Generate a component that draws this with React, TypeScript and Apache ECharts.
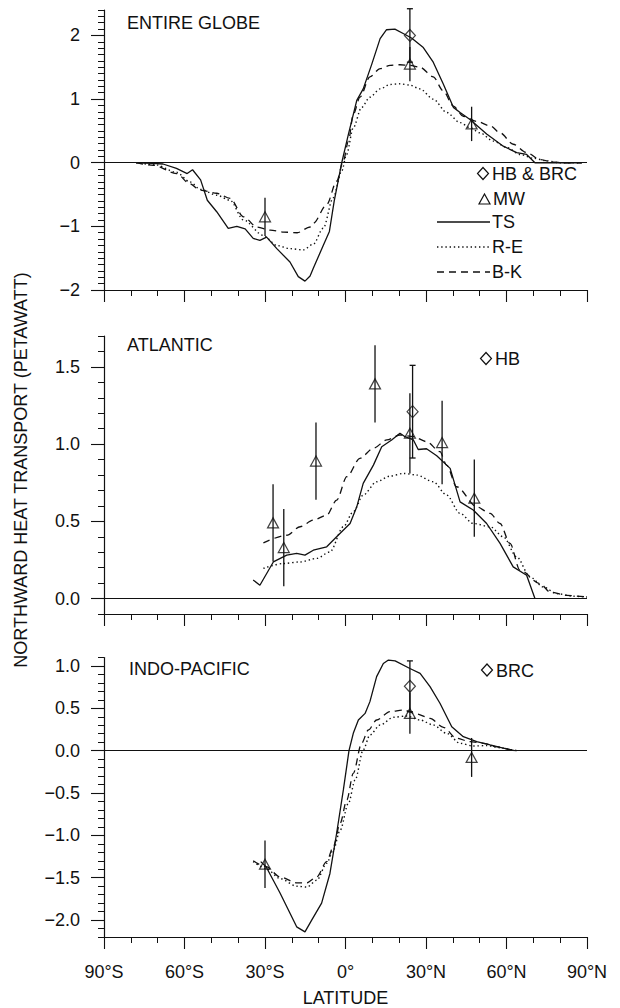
import React, { useEffect, useRef } from 'react';
import * as echarts from 'echarts';

// ---- tick labels ----
const latTicks = [-90, -60, -30, 0, 30, 60, 90];
const latLabels = ['90°S', '60°S', '30°S', '0°', '30°N', '60°N', '90°N'];
const globeMajor = [-2, -1, 0, 1, 2];
const atlMajor = [0, 0.5, 1.0, 1.5];
const pacMajor = [-2.0, -1.5, -1.0, -0.5, 0, 0.5, 1.0];

// ---- ENTIRE GLOBE ----
const globeTS = [[-78, 0], [-72, -0.01], [-68, -0.02], [-63, -0.09], [-59, -0.17], [-57, -0.11], [-54, -0.27], [-51.5, -0.59], [-48, -0.77], [-43.7, -1.03], [-40.5, -1.0], [-37.4, -1.04], [-34.4, -1.19], [-31.9, -1.22], [-29.4, -1.17], [-25.6, -1.35], [-20.7, -1.56], [-17.6, -1.79], [-15.1, -1.86], [-13.2, -1.78], [-12, -1.66], [-8.3, -1.3], [-6, -1.08], [-4.2, -0.6], [-1.4, 0], [1.1, 0.45], [4.2, 0.98], [6.6, 1.16], [9.8, 1.55], [12.9, 1.95], [15.3, 2.09], [18.4, 2.1], [21.5, 2.03], [24.6, 1.96], [29, 1.81], [32.7, 1.58], [36.4, 1.24], [40.2, 0.87], [42.7, 0.79], [46.4, 0.68], [52.6, 0.45], [58.8, 0.26], [63.8, 0.16], [67.5, 0.13], [70.6, 0], [88, 0]];
const globeRE = [[-78, 0], [-71, -0.03], [-63, -0.15], [-58, -0.3], [-54, -0.42], [-48, -0.51], [-43, -0.59], [-38, -0.9], [-30.7, -1.14], [-25.6, -1.3], [-20.7, -1.35], [-15.8, -1.37], [-12, -1.28], [-8.3, -1.03], [-4.6, -0.55], [-1.4, -0.13], [0.4, 0.13], [2.9, 0.55], [6, 0.87], [9.1, 1.03], [12.9, 1.16], [16.6, 1.23], [20.3, 1.24], [24, 1.22], [27.8, 1.16], [32.7, 1.0], [37.7, 0.79], [42.7, 0.63], [46.4, 0.55], [50.1, 0.47], [55.1, 0.34], [60.1, 0.24], [65, 0.13], [70, 0.07], [75, 0.03], [80, 0], [88, 0]];
const globeBK = [[-78, 0], [-71.6, -0.04], [-63, -0.17], [-58, -0.33], [-54.2, -0.43], [-48, -0.48], [-43, -0.56], [-38, -0.85], [-33, -1.01], [-28, -1.06], [-23, -1.09], [-18, -1.1], [-13.2, -1.01], [-12, -0.95], [-7, -0.66], [-3.3, -0.29], [-0.8, 0.03], [1.1, 0.34], [2.9, 0.76], [5.4, 1.03], [9.1, 1.35], [12.9, 1.48], [16.6, 1.53], [20.3, 1.54], [24, 1.53], [27.8, 1.5], [32.7, 1.35], [36.4, 1.13], [40.2, 0.89], [43.9, 0.73], [48.9, 0.65], [53.9, 0.58], [57.6, 0.47], [62.5, 0.29], [67.5, 0.16], [72.5, 0.05], [77.5, 0.01], [81, 0], [88, 0]];
const globeDiamonds = [[24, 2.0, 0.42]];
const globeTriangles = [[-30, -0.85, 0.3], [24, 1.55, 0.27], [47, 0.61, 0.27]];

// ---- ATLANTIC ----
const atlTS = [[-34.4, 0.12], [-31.9, 0.086], [-26.9, 0.237], [-21.9, 0.281], [-18.2, 0.292], [-15.1, 0.281], [-12, 0.313], [-7, 0.335], [-3.3, 0.4], [1.7, 0.486], [4.2, 0.594], [6.6, 0.746], [10.4, 0.864], [13.5, 0.983], [17.2, 1.027], [20.3, 1.07], [22.2, 1.048], [25.3, 1.027], [27.1, 0.965], [30.2, 0.97], [34, 0.925], [37.7, 0.864], [39, 0.843], [42.7, 0.626], [47.6, 0.573], [52.6, 0.486], [57.6, 0.357], [62.5, 0.205], [67.5, 0.151], [70.6, 0]];
const atlRE = [[-30.6, 0.195], [-23.2, 0.227], [-16.9, 0.237], [-10.7, 0.26], [-5.8, 0.302], [-0.8, 0.465], [2.9, 0.562], [6.6, 0.67], [11.6, 0.756], [16.6, 0.793], [21.6, 0.81], [26.5, 0.8], [32.7, 0.756], [37.7, 0.67], [42.7, 0.551], [47.6, 0.486], [53.9, 0.465], [58.8, 0.4], [63.8, 0.27], [68.8, 0.14], [73.7, 0.075], [78.7, 0.032], [84.9, 0.015], [90, 0.01]];
const atlBK = [[-30.6, 0.361], [-21.9, 0.41], [-16.9, 0.465], [-12, 0.508], [-7, 0.54], [-3.3, 0.637], [0.5, 0.789], [5.4, 0.908], [10.4, 0.973], [15.4, 1.027], [20.3, 1.059], [25.3, 1.048], [30.2, 1.016], [35.2, 0.951], [37.7, 0.864], [41.4, 0.724], [48.9, 0.594], [53.9, 0.551], [57.6, 0.486], [61.3, 0.357], [65, 0.184], [72.5, 0.097], [76.2, 0.043], [82.5, 0.02], [90, 0.01]];
const atlDiamonds = [[25, 1.21, 0.3]];
const atlTriangles = [[-27, 0.49, 0.25], [-23, 0.33, 0.25], [-11, 0.89, 0.25], [11, 1.39, 0.25], [24, 1.07, 0.26], [36, 1.01, 0.27], [48, 0.65, 0.25]];

// ---- INDO-PACIFIC ----
const pacTS = [[-31.6, -1.31], [-29.6, -1.37], [-24.4, -1.68], [-18.2, -2.08], [-15.1, -2.14], [-12.6, -2.0], [-8.9, -1.8], [-5.8, -1.45], [-3.3, -0.975], [-0.8, -0.464], [1.3, 0], [2.9, 0.205], [4.8, 0.362], [7.3, 0.44], [9.1, 0.579], [11.6, 0.874], [14.1, 1.03], [16, 1.07], [18.5, 1.06], [24, 0.97], [27.8, 0.913], [31.5, 0.756], [35.2, 0.56], [39.6, 0.283], [43.9, 0.165], [48.9, 0.106], [53.9, 0.067], [57.6, 0.04], [63, 0]];
const pacRE = [[-34.4, -1.31], [-29.6, -1.39], [-24.4, -1.51], [-18.2, -1.6], [-14.4, -1.61], [-10.7, -1.53], [-7, -1.33], [-4.5, -1.17], [-2, -0.94], [1.1, -0.62], [3.6, -0.346], [6.6, 0.008], [9.1, 0.185], [12.9, 0.303], [17.9, 0.394], [22.8, 0.41], [27.8, 0.362], [32.7, 0.303], [37.7, 0.205], [42.7, 0.087], [47.6, 0.055], [52.6, 0.06], [57.6, 0.035], [62, 0.01], [64, 0]];
const pacBK = [[-34.4, -1.3], [-29.6, -1.37], [-24.4, -1.49], [-18.2, -1.56], [-14.4, -1.56], [-10.7, -1.49], [-7, -1.31], [-4.5, -1.13], [-2, -0.857], [0.5, -0.582], [2.9, -0.267], [6, 0.087], [8.5, 0.244], [11.6, 0.362], [16.6, 0.46], [21.6, 0.48], [26.5, 0.433], [31.5, 0.382], [36.5, 0.276], [41.4, 0.146], [46.4, 0.106], [51.4, 0.087], [56.4, 0.047], [62, 0.01], [64, 0]];
const pacDiamonds = [[24, 0.76, 0.3]];
const pacTriangles = [[-30, -1.34, 0.28], [24, 0.44, 0.24], [47, -0.08, 0.23]];

const INK = '#111';
const FONT = 'Liberation Sans';
const DOT = [1.4, 2.8];
const DASH = [7, 5];

const minus = (s: string) => s.replace('-', '\u2212');

const panels = [
  { grid: { left: 104, width: 483, top: 10, height: 280 }, min: -2, max: 2.4, major: globeMajor, fmt: (v: number) => minus(v.toFixed(0)), ts: globeTS, re: globeRE, bk: globeBK, dia: globeDiamonds, tri: globeTriangles },
  { grid: { left: 104, width: 483, top: 336, height: 278 }, min: -0.1, max: 1.7, major: atlMajor, fmt: (v: number) => minus(v.toFixed(1)), ts: atlTS, re: atlRE, bk: atlBK, dia: atlDiamonds, tri: atlTriangles },
  { grid: { left: 104, width: 483, top: 657.5, height: 279.5 }, min: -2.2, max: 1.1, major: pacMajor, fmt: (v: number) => minus(v.toFixed(1)), ts: pacTS, re: pacRE, bk: pacBK, dia: pacDiamonds, tri: pacTriangles },
];

function buildOption() {
  const grid: any[] = [];
  const xAxis: any[] = [];
  const yAxis: any[] = [];
  const series: any[] = [];
  panels.forEach((p, g) => {
    grid.push(p.grid);
    xAxis.push({
      type: 'value', gridIndex: g, position: 'bottom', offset: 0, min: -90, max: 90, interval: 10,
      axisLine: { show: true, onZero: false, lineStyle: { color: INK, width: 1.2 } },
      axisTick: { show: true, length: 6, lineStyle: { color: INK, width: 1 } },
      axisLabel: { show: false }, splitLine: { show: false },
    });
    xAxis.push({
      type: 'value', gridIndex: g, position: 'bottom', offset: 0, min: -90, max: 90, interval: 30,
      axisLine: { show: false, onZero: false },
      axisTick: { show: true, length: 12, lineStyle: { color: INK, width: 1.1 } },
      axisLabel: {
        show: g === 2, margin: 26, color: INK, fontFamily: FONT, fontSize: 18,
        formatter: (v: number) => latLabels[latTicks.indexOf(Math.round(v))] ?? '',
      },
      splitLine: { show: false },
    });
    yAxis.push({
      type: 'value', gridIndex: g, position: 'left', offset: 0, min: p.min, max: p.max, interval: 0.1,
      axisLine: { show: true, onZero: false, lineStyle: { color: INK, width: 1.2 } },
      axisTick: { show: true, length: 6, lineStyle: { color: INK, width: 1 } },
      axisLabel: { show: false }, splitLine: { show: false },
    });
    yAxis.push({
      type: 'value', gridIndex: g, position: 'left', offset: 0, min: p.min, max: p.max,
      axisLine: { show: false, onZero: false },
      axisTick: { show: true, length: 13, customValues: p.major, lineStyle: { color: INK, width: 1.1 } },
      axisLabel: { show: true, margin: 24, customValues: p.major, color: INK, fontFamily: FONT, fontSize: 18, formatter: p.fmt },
      splitLine: { show: false },
    });
    const xi = 2 * g, yi = 2 * g;
    series.push({
      type: 'line', xAxisIndex: xi, yAxisIndex: yi, data: p.ts, symbol: 'none',
      lineStyle: { color: INK, width: 1.3 },
      markLine: { silent: true, symbol: ['none', 'none'], label: { show: false }, data: [{ yAxis: 0 }], lineStyle: { color: INK, width: 1, type: 'solid' } },
    });
    series.push({
      type: 'line', xAxisIndex: xi, yAxisIndex: yi, data: p.re, symbol: 'none', smooth: 0.3, smoothMonotone: 'x',
      lineStyle: { color: INK, width: 1.4, type: DOT },
    });
    series.push({
      type: 'line', xAxisIndex: xi, yAxisIndex: yi, data: p.bk, symbol: 'none', smooth: 0.3, smoothMonotone: 'x',
      lineStyle: { color: INK, width: 1.3, type: DASH },
    });
    const bars = [
      ...p.dia.map((d) => [d[0], d[1] - d[2], d[1] + d[2], 1]),
      ...p.tri.map((t) => [t[0], t[1] - t[2], t[1] + t[2], 0]),
    ];
    series.push({
      type: 'custom', xAxisIndex: xi, yAxisIndex: yi, data: bars, encode: { x: 0, y: 1 },
      renderItem: (params: any, api: any) => {
        const x = api.value(0);
        const a = api.coord([x, api.value(1)]);
        const b = api.coord([x, api.value(2)]);
        const cap = api.value(3) === 1;
        const st = { stroke: INK, lineWidth: 1.3 };
        const children: any[] = [{ type: 'line', shape: { x1: a[0], y1: a[1], x2: b[0], y2: b[1] }, style: st }];
        if (cap) {
          children.push({ type: 'line', shape: { x1: a[0] - 3, y1: a[1], x2: a[0] + 3, y2: a[1] }, style: st });
          children.push({ type: 'line', shape: { x1: b[0] - 3, y1: b[1], x2: b[0] + 3, y2: b[1] }, style: st });
        }
        return { type: 'group', children };
      },
    });
    series.push({
      type: 'scatter', xAxisIndex: xi, yAxisIndex: yi, data: p.dia.map((d) => [d[0], d[1]]),
      symbol: 'diamond', symbolSize: [11, 12],
      itemStyle: { color: 'rgba(255,255,255,0)', borderColor: INK, borderWidth: 1.2 },
    });
    series.push({
      type: 'scatter', xAxisIndex: xi, yAxisIndex: yi, data: p.tri.map((t) => [t[0], t[1]]),
      symbol: 'triangle', symbolSize: [11, 10],
      itemStyle: { color: 'rgba(255,255,255,0)', borderColor: INK, borderWidth: 1.2 },
    });
  });

  const txt = (text: string, x: number, y: number, size = 18, extra: any = {}) => ({
    type: 'text', x, y, ...extra,
    style: { text, fill: INK, font: `${size}px "${FONT}"`, textVerticalAlign: 'middle', textAlign: 'left', ...(extra.style || {}) },
  });
  const diamond = (cx: number, cy: number) => ({
    type: 'polygon', shape: { points: [[cx, cy - 6], [cx + 5.5, cy], [cx, cy + 6], [cx - 5.5, cy]] },
    style: { fill: 'none', stroke: INK, lineWidth: 1.2 },
  });
  const triangle = (cx: number, cy: number) => ({
    type: 'polygon', shape: { points: [[cx, cy - 5], [cx + 5.5, cy + 5], [cx - 5.5, cy + 5]] },
    style: { fill: 'none', stroke: INK, lineWidth: 1.2 },
  });
  const legLine = (y: number, dash: any) => ({
    type: 'line', shape: { x1: 437, y1: y, x2: 490, y2: y },
    style: { stroke: INK, lineWidth: 1.3, lineDash: dash },
  });

  const graphic: any[] = [
    txt('ENTIRE GLOBE', 127, 23),
    txt('ATLANTIC', 127, 345),
    txt('INDO-PACIFIC', 129, 669),
    diamond(483, 173.5), txt('HB & BRC', 492, 174, 18),
    triangle(484.5, 199), txt('MW', 493, 199, 18),
    legLine(222, null), txt('TS', 492, 222, 18),
    legLine(247, DOT), txt('R-E', 492, 247, 18),
    legLine(272, DASH), txt('B-K', 492, 272, 18),
    diamond(486, 358.5), txt('HB', 495, 359, 18),
    diamond(487, 670), txt('BRC', 496, 670.5, 18),
    txt('NORTHWARD HEAT TRANSPORT (PETAWATT)', 21, 470, 18, { rotation: Math.PI / 2, style: { textAlign: 'center' } }),
    txt('LATITUDE', 345.5, 998, 18, { style: { textAlign: 'center' } }),
  ];

  return {
    animation: false,
    backgroundColor: '#fff',
    textStyle: { fontFamily: FONT },
    grid, xAxis, yAxis, series, graphic,
  };
}

export default function App() {
  const ref = useRef<HTMLDivElement>(null);
  useEffect(() => {
    const chart = echarts.init(ref.current!, null, { renderer: 'svg' });
    chart.setOption(buildOption() as any);
    return () => chart.dispose();
  }, []);
  return <div ref={ref} style={{ position: 'fixed', left: 0, top: 0, width: 620, height: 1008, background: '#fff' }} />;
}
